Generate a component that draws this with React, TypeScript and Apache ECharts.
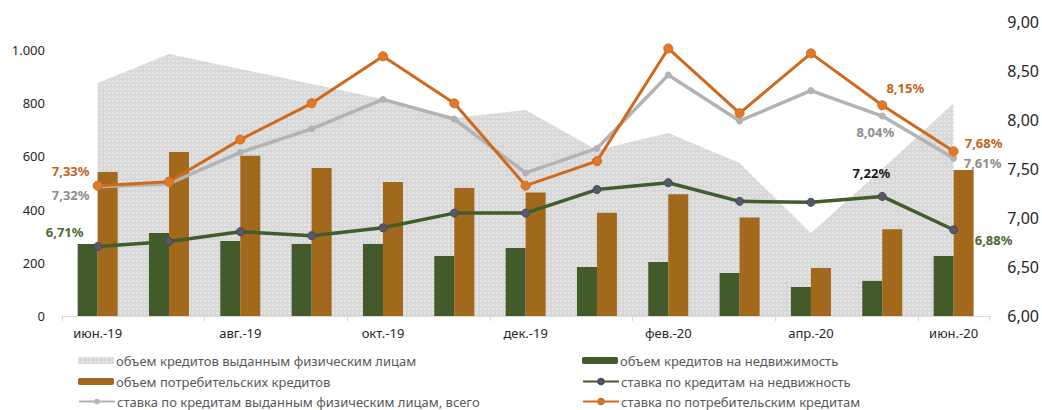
import React, { useEffect, useRef } from "react";
import * as echarts from "echarts";

const categories = [
  "июн.-19", "июл.-19", "авг.-19", "сен.-19", "окт.-19", "ноя.-19", "дек.-19",
  "янв.-20", "фев.-20", "мар.-20", "апр.-20", "май.-20", "июн.-20",
];
const volumeTotal = [876, 985, 929, 872, 816, 744, 774, 624, 688, 575, 312, 553, 800];
const volumeMortgage = [271, 312, 282, 271, 271, 226, 256, 184, 203, 162, 109, 132, 226];
const volumeConsumer = [541, 617, 602, 556, 504, 481, 464, 388, 458, 370, 180, 326, 549];
const rateTotal = [7.32, 7.35, 7.67, 7.91, 8.21, 8.01, 7.46, 7.71, 8.46, 7.99, 8.3, 8.04, 7.61];
const rateMortgage = [6.71, 6.76, 6.86, 6.82, 6.9, 7.05, 7.05, 7.29, 7.36, 7.17, 7.16, 7.22, 6.88];
const rateConsumer = [7.33, 7.37, 7.8, 8.17, 8.65, 8.17, 7.33, 7.58, 8.73, 8.07, 8.68, 8.15, 7.68];

const leftTicks = [0, 200, 400, 600, 800, 1000];
const rightTicks = [6, 6.5, 7, 7.5, 8, 8.5, 9];

const names = {
  area: "объем кредитов выданным физическим лицам",
  mortgage: "объем кредитов на недвижимость",
  consumer: "объем потребительских кредитов",
  rMortgage: "ставка по кредитам на недвижность",
  rTotal: "ставка по кредитам выданным физическим лицам, всего",
  rConsumer: "ставка по потребительским кредитам",
};

const FONT = "Noto Sans";
const fmtPct = (v: number) => v.toFixed(2).replace(".", ",") + "%";

const dotSvg =
  "data:image/svg+xml;charset=utf-8," +
  encodeURIComponent(
    "<svg xmlns='http://www.w3.org/2000/svg' width='4' height='4'><rect width='4' height='4' fill='#d8d8d8'/><circle cx='1' cy='1' r='0.8' fill='#f6f6f6'/></svg>"
  );

type LabelSpec = { idx: number; offset: [number, number]; color?: string };

function withLabels(values: number[], specs: LabelSpec[], color: string) {
  return values.map((v, i) => {
    const s = specs.find((x) => x.idx === i);
    if (!s) return v;
    return {
      value: v,
      label: {
        show: true,
        position: "inside",
        offset: s.offset,
        formatter: () => fmtPct(v),
        color: s.color || color,
        fontSize: 13,
        fontWeight: "bold",
        fontFamily: FONT,
      },
    };
  });
}

export default function App() {
  const ref = useRef<HTMLDivElement>(null);
  useEffect(() => {
    if (!ref.current) return;
    const chart = echarts.init(ref.current, undefined, { renderer: "svg" });
    const pattern: any = { image: dotSvg, repeat: "repeat", imageWidth: 4, imageHeight: 4 };
    const leftMax = (1000 * 294) / 266;
    const legendItem = (name: string, left: number, top: number, extra: any = {}) => ({
      left,
      top,
      orient: "horizontal",
      itemWidth: 36,
      itemHeight: 7,
      padding: 0,
      textStyle: { color: "#595959", fontSize: 13, fontFamily: FONT, padding: [0, 0, 0, -3] },
      data: [{ name, ...extra }],
    });
    chart.setOption({
      animation: false,
      textStyle: { fontFamily: FONT },
      grid: { left: 62, right: 50, top: 22, bottom: 94 },
      legend: [
        legendItem(names.area, 78, 354, { icon: "rect", itemStyle: { color: pattern } }),
        legendItem(names.consumer, 78, 375),
        legendItem(names.rTotal, 78, 395),
        legendItem(names.mortgage, 582, 354),
        legendItem(names.rMortgage, 582, 375),
        legendItem(names.rConsumer, 582, 395),
      ],
      xAxis: {
        type: "category",
        data: categories,
        boundaryGap: true,
        axisLine: { lineStyle: { color: "#d9d9d9", width: 1 } },
        axisTick: { show: true, interval: 1, length: 5, lineStyle: { color: "#d9d9d9" } },
        axisLabel: { interval: 1, color: "#262626", fontSize: 13, margin: 10, fontFamily: FONT },
      },
      yAxis: [
        {
          type: "value",
          min: 0,
          max: leftMax,
          interval: 200,
          splitLine: { show: false },
          axisLine: { show: false },
          axisTick: { show: false },
          axisLabel: {
            color: "#262626",
            fontSize: 13,
            margin: 17,
            fontFamily: FONT,
            formatter: (v: number) =>
              leftTicks.includes(Math.round(v)) && Math.abs(v - Math.round(v)) < 1e-6
                ? Math.round(v) >= 1000
                  ? "1.000"
                  : String(Math.round(v))
                : "",
          },
        },
        {
          type: "value",
          min: 6,
          max: 9,
          interval: 0.5,
          splitLine: { show: false },
          axisLine: { show: false },
          axisTick: { show: false },
          axisLabel: {
            color: "#262626",
            fontSize: 16,
            margin: 18,
            fontFamily: FONT,
            formatter: (v: number) =>
              rightTicks.some((t) => Math.abs(t - v) < 1e-6) ? v.toFixed(2).replace(".", ",") : "",
          },
        },
      ],
      series: [
        {
          name: names.area,
          type: "line",
          data: volumeTotal,
          yAxisIndex: 0,
          symbol: "none",
          lineStyle: { width: 0, color: "#d3d3d3" },
          itemStyle: { color: pattern },
          areaStyle: { color: pattern, opacity: 1 },
          z: 1,
        },
        {
          name: names.mortgage,
          type: "bar",
          data: volumeMortgage,
          yAxisIndex: 0,
          barWidth: 20,
          barGap: "0%",
          itemStyle: { color: "#435a2a" },
          z: 2,
        },
        {
          name: names.consumer,
          type: "bar",
          data: volumeConsumer,
          yAxisIndex: 0,
          barWidth: 20,
          barGap: "0%",
          itemStyle: { color: "#a2691c" },
          z: 2,
        },
        {
          name: names.rTotal,
          type: "line",
          yAxisIndex: 1,
          data: withLabels(
            rateTotal,
            [
              { idx: 0, offset: [-27, 8] },
              { idx: 11, offset: [-7, 16] },
              { idx: 12, offset: [29, 5] },
            ],
            "#8e8e8e"
          ),
          symbol: "circle",
          symbolSize: 7,
          lineStyle: { width: 3.5, color: "#b3b3b3" },
          itemStyle: { color: "#b3b3b3" },
          z: 3,
        },
        {
          name: names.rMortgage,
          type: "line",
          yAxisIndex: 1,
          data: withLabels(
            rateMortgage,
            [
              { idx: 0, offset: [-33, -14] },
              { idx: 11, offset: [-11, -23], color: "#1a1a1a" },
              { idx: 12, offset: [40, 10] },
            ],
            "#4f6b32"
          ),
          symbol: "circle",
          symbolSize: 8,
          lineStyle: { width: 3.5, color: "#3f5e2a" },
          itemStyle: { color: "#5a5868", borderColor: "#4a4858", borderWidth: 1 },
          z: 4,
        },
        {
          name: names.rConsumer,
          type: "line",
          yAxisIndex: 1,
          data: withLabels(
            rateConsumer,
            [
              { idx: 0, offset: [-27, -15] },
              { idx: 11, offset: [23, -17] },
              { idx: 12, offset: [30, -8] },
            ],
            "#c0661e"
          ),
          symbol: "circle",
          symbolSize: 9,
          lineStyle: { width: 3, color: "#d0691c" },
          itemStyle: { color: "#e07a2a", borderColor: "#d0691c", borderWidth: 1 },
          z: 5,
        },
      ],
    });
    return () => chart.dispose();
  }, []);
  return <div ref={ref} style={{ width: 1042, height: 410, position: "absolute", left: 0, top: 0 }} />;
}
